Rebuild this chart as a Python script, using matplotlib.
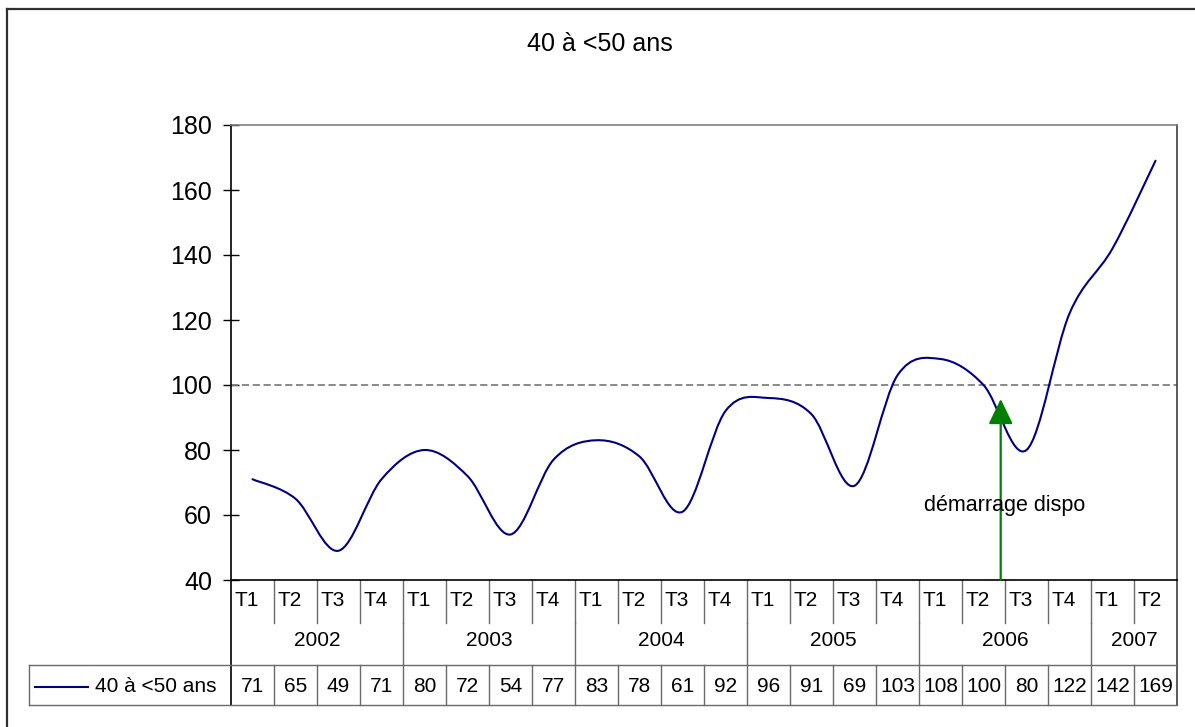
import numpy as np
import matplotlib
matplotlib.use("Agg")
import matplotlib.pyplot as plt
from matplotlib.path import Path
from matplotlib.patches import PathPatch
from matplotlib.lines import Line2D

plt.rcParams['font.family'] = ['Liberation Sans', 'DejaVu Sans']

# Data
title = "40 à <50 ans"
series_name = "40 à <50 ans"
quarters = ["T1", "T2", "T3", "T4"] * 5 + ["T1", "T2"]
years = ["2002", "2003", "2004", "2005", "2006", "2007"]
year_counts = [4, 4, 4, 4, 4, 2]
values = [71, 65, 49, 71, 80, 72, 54, 77, 83, 78, 61, 92,
          96, 91, 69, 103, 108, 100, 80, 122, 142, 169]
ref_level = 100
start_pos = 17.4      # position of "démarrage dispo" arrow (between T2 and T3 2006)
start_tip = 95.7
start_label = "démarrage dispo"

W, H = 1195, 727
fig = plt.figure(figsize=(W / 100, H / 100), dpi=100)

# plot area in pixels
L, R, T, B = 231, 1177, 125, 580
ax = fig.add_axes([L / W, 1 - B / H, (R - L) / W, (B - T) / H])

n = len(values)
x = np.arange(n)
y = np.array(values, dtype=float)


def smooth_path(xs, ys):
    ''' Excel-style smoothed line: cubic Bezier segments through every point.'''
    px = np.concatenate([[xs[0]], xs, [xs[-1]]])
    py = np.concatenate([[ys[0]], ys, [ys[-1]]])
    verts = [(xs[0], ys[0])]
    codes = [Path.MOVETO]
    for i in range(1, len(xs)):
        c1 = (px[i] + (px[i + 1] - px[i - 1]) / 6, py[i] + (py[i + 1] - py[i - 1]) / 6)
        c2 = (px[i + 1] - (px[i + 2] - px[i]) / 6, py[i + 1] - (py[i + 2] - py[i]) / 6)
        verts += [c1, c2, (px[i + 1], py[i + 1])]
        codes += [Path.CURVE4] * 3
    return Path(verts, codes)


ax.add_patch(PathPatch(smooth_path(x, y), fill=False, edgecolor='#000080', lw=1.5,
                       capstyle='round', joinstyle='round', zorder=3))

ax.axhline(ref_level, color='#808080', lw=1.3, ls=(0, (4, 2)), zorder=2)

ax.set_xlim(-0.5, n - 0.5)
ax.set_ylim(40, 180)
ax.set_yticks(range(40, 181, 20))
ax.set_xticks([])
ax.tick_params(axis='y', direction='inout', length=11.5, width=1, pad=8, labelsize=18)

ax.spines['left'].set_color('black')
ax.spines['bottom'].set_color('black')
ax.spines['top'].set_color('#808080')
ax.spines['right'].set_color('#404040')
for s in ax.spines.values():
    s.set_linewidth(1.2)

# arrow and label
ax.annotate('', xy=(start_pos, start_tip), xytext=(start_pos, 40),
            arrowprops=dict(arrowstyle='-|>,head_length=15.5,head_width=7.5',
                            mutation_scale=1, color='#008000', lw=1.6,
                            shrinkA=0, shrinkB=0), zorder=4)
ax.text(start_pos + 0.08, 63, start_label, ha='center', va='center', fontsize=15.5, zorder=5)

# title
fig.text(600 / W, 1 - 44 / H, title, ha='center', va='center', fontsize=18)

# outer frame (top and left edges visible)
fig.add_artist(Line2D([7 / W, 7 / W], [0, 1 - 9 / H], transform=fig.transFigure,
                      color='#303030', lw=1.6))
fig.add_artist(Line2D([7 / W, 1], [1 - 9 / H, 1 - 9 / H], transform=fig.transFigure,
                      color='#303030', lw=1.6))

# data table below the axis
tr = ax.get_xaxis_transform()


def ya(py):
    return (B - py) / (B - T)


grid = '#6a6a6a'
y_trow, y_year, y_val = ya(623), ya(665), ya(705)

# quarter dividers
for i in range(1, n):
    ax.plot([i - 0.5, i - 0.5], [0, y_trow], transform=tr, color=grid, lw=1, clip_on=False)
    ax.plot([i - 0.5, i - 0.5], [y_year, y_val], transform=tr, color=grid, lw=1, clip_on=False)
# year dividers
pos = 0
for yr, cnt in zip(years, year_counts):
    ax.text(pos + cnt / 2 - 0.5, ya(640), yr, transform=tr, ha='center', va='center',
            fontsize=15, clip_on=False)
    pos += cnt
    if pos < n:
        ax.plot([pos - 0.5, pos - 0.5], [y_trow, y_year], transform=tr, color=grid, lw=1,
                clip_on=False)
ax.plot([n - 0.5, n - 0.5], [0, y_val], transform=tr, color='#404040', lw=1.2, clip_on=False)
ax.plot([-0.5, -0.5], [0, y_val], transform=tr, color='black', lw=1.2, clip_on=False)

for i, (q, v) in enumerate(zip(quarters, values)):
    ax.text(i - 0.5 + 0.09, ya(600), q, transform=tr, ha='left', va='center', fontsize=15,
            clip_on=False)
    ax.text(i, ya(686), str(v), transform=tr, ha='center', va='center', fontsize=15,
            clip_on=False)

# horizontal table lines, legend cell
x_leg = 29
for py in (665, 705):
    fig.add_artist(Line2D([x_leg / W, R / W], [1 - py / H, 1 - py / H],
                          transform=fig.transFigure, color=grid, lw=1))
fig.add_artist(Line2D([x_leg / W, x_leg / W], [1 - 665 / H, 1 - 705 / H],
                      transform=fig.transFigure, color=grid, lw=1))
fig.add_artist(Line2D([35 / W, 88 / W], [1 - 687 / H, 1 - 687 / H],
                      transform=fig.transFigure, color='#000080', lw=1.5))
fig.text(95 / W, 1 - 686 / H, series_name, ha='left', va='center', fontsize=15)

fig.savefig("out.png", dpi=100)
